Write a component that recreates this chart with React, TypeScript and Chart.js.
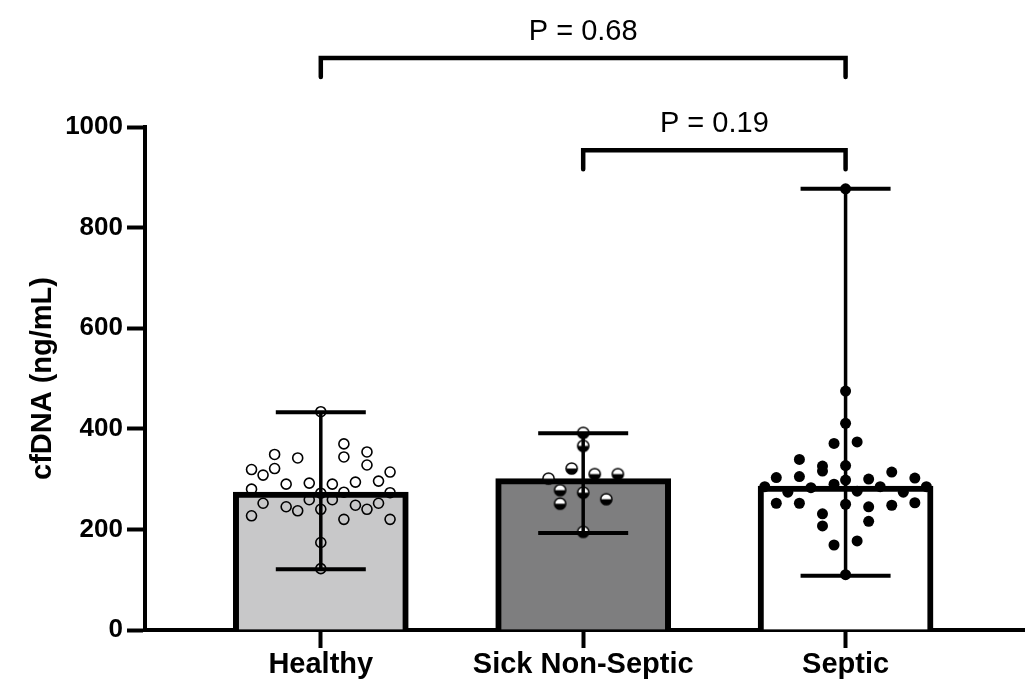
import React, { useEffect, useRef } from 'react';
import { Chart, registerables } from 'chart.js';

Chart.register(...registerables);

// ---------- data ----------
const categories = ['Healthy', 'Sick Non-Septic', 'Septic'];
const medians = [274, 301, 286];
const rangeLow = [121, 193, 108];
const rangeHigh = [433, 391, 877];
const yTicks = [0, 200, 400, 600, 800, 1000];

const healthyValues = [434, 370, 344, 354, 328, 349, 342, 319, 308, 321, 314, 290, 292, 290, 294, 296, 280, 274, 273, 252, 259, 259, 248, 252, 245, 237, 240, 240, 227, 220, 220, 174, 122, 272];
const healthyCols = [0, 2, 2, 4, 4, -4, -2, -6, -5, -4, 6, -3, -1, 1, 3, 5, -6, 2, 6, -5, -1, 1, 3, 5, -3, -2, 0, 4, -6, 2, 6, 0, 0, 0];

const sickValues = [392, 366, 273, 195, 321, 310, 310, 301, 278, 251, 260];
const sickCols = [0, 0, 0, 0, -1, 1, 3, -3, -2, -2, 2];

const septicValues = [877, 475, 411, 327, 298, 250, 110, 371, 290, 169, 374, 276, 177, 339, 305, 252, 326, 316, 231, 207, 303, 252, 300, 245, 216, 314, 248, 302, 253, 285, 274, 283, 285, 274, 285];
const septicCols = [0, 0, 0, 0, 0, 0, 0, -1, -1, -1, 1, 1, 1, -4, -4, -4, -2, -2, -2, -2, -6, -6, 2, 2, 2, 4, 4, 6, 6, -7, -5, -3, 3, 5, 7];

const compFrom = [0, 1];
const compTo = [2, 2];
const compLevel = [1137, 954];
const compLabel = ['P = 0.68', 'P = 0.19'];

const FONT = '"Liberation Sans", Arial, Helvetica, sans-serif';
const COL_STEP = 0.044;

function toPoints(catIndex: number, values: number[], cols: number[]) {
  return values.map((v, i) => ({ x: catIndex + cols[i] * COL_STEP, y: v }));
}

function makeHalfDot(): HTMLCanvasElement {
  const c = document.createElement('canvas');
  c.width = 15;
  c.height = 15;
  const g = c.getContext('2d')!;
  const cx = 7.5, cy = 7.5, r = 5.6;
  g.beginPath();
  g.arc(cx, cy, r, 0, Math.PI * 2);
  g.fillStyle = '#ffffff';
  g.fill();
  g.beginPath();
  g.arc(cx, cy, r, 0, Math.PI);
  g.closePath();
  g.fillStyle = '#000000';
  g.fill();
  g.beginPath();
  g.arc(cx, cy, r, 0, Math.PI * 2);
  g.lineWidth = 1.5;
  g.strokeStyle = '#000000';
  g.stroke();
  return c;
}

const overlayPlugin = {
  id: 'overlay',
  afterDatasetsDraw(chart: any) {
    const { ctx, scales } = chart;
    const xs = scales.x;
    const ys = scales.y;
    ctx.save();
    ctx.strokeStyle = '#000';
    // range error bars
    for (let i = 0; i < categories.length; i++) {
      const x = xs.getPixelForValue(i);
      const yl = ys.getPixelForValue(rangeLow[i]);
      const yh = ys.getPixelForValue(rangeHigh[i]);
      ctx.lineWidth = 3.5;
      ctx.beginPath();
      ctx.moveTo(x, yl);
      ctx.lineTo(x, yh);
      ctx.stroke();
      ctx.lineWidth = 4;
      ctx.beginPath();
      ctx.moveTo(x - 45, yl);
      ctx.lineTo(x + 45, yl);
      ctx.moveTo(x - 45, yh);
      ctx.lineTo(x + 45, yh);
      ctx.stroke();
    }
    // comparison brackets
    ctx.lineWidth = 4.5;
    ctx.lineJoin = 'miter';
    ctx.lineCap = 'round';
    ctx.fillStyle = '#000';
    ctx.font = `29px ${FONT}`;
    ctx.textAlign = 'center';
    ctx.textBaseline = 'alphabetic';
    for (let i = 0; i < compFrom.length; i++) {
      const x1 = xs.getPixelForValue(compFrom[i]);
      const x2 = xs.getPixelForValue(compTo[i]);
      const y = ys.getPixelForValue(compLevel[i]);
      ctx.beginPath();
      ctx.moveTo(x1, y + 19);
      ctx.lineTo(x1, y);
      ctx.lineTo(x2, y);
      ctx.lineTo(x2, y + 19);
      ctx.stroke();
      ctx.fillText(compLabel[i], (x1 + x2) / 2, y - 18);
    }
    ctx.restore();
  },
};

export default function App() {
  const ref = useRef<HTMLCanvasElement | null>(null);

  useEffect(() => {
    document.body.style.margin = '0';
    const canvas = ref.current;
    if (!canvas) return;
    const halfDot = makeHalfDot();

    const gridCfg = {
      drawOnChartArea: false,
      drawTicks: true,
      tickLength: 18,
      tickWidth: 4,
      tickColor: '#000',
      offset: false,
    };
    const borderCfg = { display: true, color: '#000', width: 4 };

    const chart = new Chart(canvas, {
      type: 'bar',
      data: {
        datasets: [
          {
            type: 'scatter',
            data: toPoints(0, healthyValues, healthyCols),
            pointStyle: 'circle',
            pointRadius: 5,
            backgroundColor: 'rgba(0,0,0,0)',
            borderColor: '#000',
            borderWidth: 1.6,
            order: 0,
          } as any,
          {
            type: 'scatter',
            data: toPoints(1, sickValues, sickCols),
            pointStyle: halfDot,
            pointRadius: 6,
            order: 0,
          } as any,
          {
            type: 'scatter',
            data: toPoints(2, septicValues, septicCols),
            pointStyle: 'circle',
            pointRadius: 5.5,
            backgroundColor: '#000',
            borderColor: '#000',
            borderWidth: 0,
            order: 0,
          } as any,
          {
            type: 'bar',
            data: medians.map((v, i) => ({ x: i, y: v })),
            backgroundColor: ['#c8c8c9', '#7e7e7f', '#ffffff'],
            borderColor: '#000',
            borderWidth: 6,
            barThickness: 175,
            order: 1,
          } as any,
        ],
      },
      options: {
        animation: false,
        responsive: true,
        maintainAspectRatio: false,
        layout: { padding: { top: 127, right: 2, left: 0, bottom: 0 } },
        plugins: {
          legend: { display: false },
          tooltip: { enabled: false },
        },
        scales: {
          x: {
            type: 'linear',
            offset: false,
            min: -0.67,
            max: 2.68,
            afterBuildTicks: (s: any) => {
              s.ticks = categories.map((_, i) => ({ value: i }));
            },
            afterFit: (s: any) => {
              s.height = 52;
            },
            ticks: {
              callback: (v: any) => categories[Math.round(Number(v))] ?? '',
              font: { family: FONT, size: 29, weight: 'bold' },
              color: '#000',
              padding: 0,
              maxRotation: 0,
              autoSkip: false,
            },
            grid: gridCfg,
            border: borderCfg,
          },
          y: {
            type: 'linear',
            min: 0,
            max: 1000,
            afterBuildTicks: (s: any) => {
              s.ticks = yTicks.map((v) => ({ value: v }));
            },
            afterFit: (s: any) => {
              s.width = 145;
            },
            ticks: {
              callback: (v: any) => String(v),
              font: { family: FONT, size: 26, weight: 'bold' },
              color: '#000',
              padding: 4,
            },
            grid: gridCfg,
            border: borderCfg,
            title: {
              display: true,
              text: 'cfDNA (ng/mL)',
              font: { family: FONT, size: 29, weight: 'bold' },
              color: '#000',
              padding: { top: 26, bottom: 0 },
            },
          },
        },
      } as any,
      plugins: [overlayPlugin],
    });

    return () => chart.destroy();
  }, []);

  return (
    <div style={{ position: 'relative', width: '1031px', height: '682px' }}>
      <canvas ref={ref} />
    </div>
  );
}
